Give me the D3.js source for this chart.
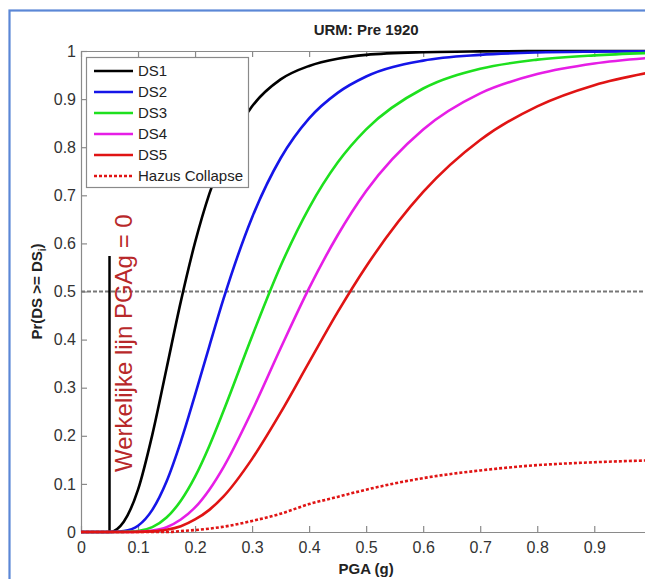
<!DOCTYPE html>
<html><head><meta charset="utf-8">
<script src="https://cdn.jsdelivr.net/npm/d3@7"></script>
<style>
html,body{margin:0;padding:0;background:#fff;}
svg{display:block;font-family:"Liberation Sans",Arial,Helvetica,sans-serif;}
</style></head>
<body><svg id="c" width="645" height="579"></svg>
<script>
// ---- data ----
const pga   = [0, 0.05, 0.075, 0.1, 0.125, 0.15, 0.175, 0.2, 0.225, 0.25, 0.3, 0.35, 0.4, 0.45, 0.5, 0.6, 0.7, 0.8, 0.9, 1.0];
const ds1   = [0, 0, 0.0215, 0.088, 0.202, 0.340, 0.479, 0.602, 0.703, 0.781, 0.885, 0.941, 0.969, 0.984, 0.992, 0.9975, 0.9992, 0.9998, 1, 1];
const ds2   = [0, 0, 0.002, 0.013, 0.046, 0.105, 0.188, 0.285, 0.386, 0.485, 0.654, 0.777, 0.860, 0.913, 0.947, 0.980, 0.992, 0.997, 0.9987, 0.9994];
const ds3   = [0, 0, 0.0002, 0.002, 0.010, 0.030, 0.065, 0.115, 0.179, 0.252, 0.407, 0.553, 0.674, 0.768, 0.837, 0.922, 0.963, 0.982, 0.991, 0.996];
const ds4   = [0, 0, 0, 0.0005, 0.003, 0.010, 0.026, 0.051, 0.088, 0.135, 0.252, 0.382, 0.507, 0.617, 0.709, 0.837, 0.912, 0.952, 0.974, 0.986];
const ds5   = [0, 0, 0, 0.0002, 0.0013, 0.0046, 0.012, 0.026, 0.046, 0.074, 0.152, 0.248, 0.353, 0.457, 0.552, 0.707, 0.815, 0.885, 0.929, 0.956];
const hazus = [0, 0, 0, 0, 0, 0, 0.002, 0.004, 0.007, 0.011, 0.023, 0.038, 0.058, 0.073, 0.088, 0.112, 0.128, 0.139, 0.145, 0.149];
const seriesNames = ["DS1", "DS2", "DS3", "DS4", "DS5", "Hazus Collapse"];
const xTicks = [0, 0.1, 0.2, 0.3, 0.4, 0.5, 0.6, 0.7, 0.8, 0.9];
const yTicks = [0, 0.1, 0.2, 0.3, 0.4, 0.5, 0.6, 0.7, 0.8, 0.9, 1];
const refLevel = 0.5;
const actualLinePGA = 0.05, actualLineTop = 0.574;
const title = "URM: Pre 1920";
const xLabel = "PGA (g)";
const annotation = "Werkelijke lijn PGAg = 0";

// ---- styles ----
const colors = ["#000000", "#1515e8", "#1ee01e", "#e61ee6", "#e01414", "#e01414"];
const allSeries = [ds1, ds2, ds3, ds4, ds5, hazus];

const svg = d3.select("#c");
const L = 81, T = 51, B = 532, R = 651.3;
const x = d3.scaleLinear().domain([0, 1]).range([L, R]);
const y = d3.scaleLinear().domain([0, 1]).range([B, T]);

// outer blue frame
svg.append("rect").attr("x", 9.5).attr("y", 10.5).attr("width", 720).attr("height", 720)
  .attr("fill", "none").attr("stroke", "#5b87d6").attr("stroke-width", 2.2);

// title
svg.append("text").attr("x", (L + R) / 2).attr("y", 35).attr("text-anchor", "middle")
  .attr("font-size", 15).attr("font-weight", "bold").attr("fill", "#222").text(title);

// axes
const axColor = "#8a8a8a";
const gx = svg.append("g").attr("transform", `translate(0,${B})`)
  .call(d3.axisBottom(x).tickValues(xTicks).tickSizeInner(-6).tickSizeOuter(0).tickPadding(10)
    .tickFormat(d => d === 0 ? "0" : d3.format(".1f")(d)));
const gxt = svg.append("g").attr("transform", `translate(0,${T})`)
  .call(d3.axisTop(x).tickValues(xTicks).tickSizeInner(-6).tickSizeOuter(0).tickFormat(""));
const gy = svg.append("g").attr("transform", `translate(${L},0)`)
  .call(d3.axisLeft(y).tickValues(yTicks).tickSizeInner(-6).tickSizeOuter(0).tickPadding(5)
    .tickFormat(d => (d === 0 || d === 1) ? String(d) : d3.format(".1f")(d)));
const gyr = svg.append("g").attr("transform", `translate(${R},0)`)
  .call(d3.axisRight(y).tickValues(yTicks).tickSizeInner(-6).tickSizeOuter(0).tickFormat(""));
[gx, gxt, gy, gyr].forEach(g => {
  g.selectAll("path,line").attr("stroke", axColor).attr("stroke-width", 1.2);
  g.selectAll("text").attr("fill", "#333").attr("font-size", 16)
    .attr("font-family", "'Liberation Sans',Arial,sans-serif");
});

// x label
svg.append("text").attr("x", (L + R) / 2).attr("y", 574).attr("text-anchor", "middle")
  .attr("font-size", 15).attr("font-weight", "bold").attr("fill", "#222").text(xLabel);
// y label
const yl = svg.append("text").attr("transform", `translate(42,${(T + B) / 2}) rotate(-90)`)
  .attr("text-anchor", "middle").attr("font-size", 15).attr("font-weight", "bold").attr("fill", "#222");
yl.append("tspan").text("Pr(DS >= DS");
yl.append("tspan").attr("font-size", 10).attr("dy", 4).text("i");
yl.append("tspan").attr("dy", -4).text(")");

// reference 0.5 dashed line
svg.append("line").attr("x1", x(0)).attr("x2", x(1)).attr("y1", y(refLevel)).attr("y2", y(refLevel))
  .attr("stroke", "#777").attr("stroke-width", 2).attr("stroke-dasharray", "4,2");

// vertical actual line
svg.append("line").attr("x1", x(actualLinePGA)).attr("x2", x(actualLinePGA))
  .attr("y1", y(0)).attr("y2", y(actualLineTop)).attr("stroke", "#000").attr("stroke-width", 2.5);

// curves
const line = d3.line().x((d, i) => x(pga[i])).y(d => y(d)).curve(d3.curveMonotoneX);
allSeries.forEach((s, k) => {
  svg.append("path").datum(s).attr("d", line).attr("fill", "none")
    .attr("stroke", colors[k]).attr("stroke-width", 2.6)
    .attr("stroke-dasharray", k === 5 ? "3,2" : null);
});

// annotation
svg.append("text").attr("transform", `translate(132,472) rotate(-90)`)
  .attr("font-size", 24).attr("fill", "#b8282a").text(annotation);

// legend
const lg = svg.append("g");
lg.append("rect").attr("x", 86.5).attr("y", 57.5).attr("width", 162).attr("height", 130)
  .attr("fill", "#fff").attr("stroke", "#8a8a8a").attr("stroke-width", 1.2);
seriesNames.forEach((n, k) => {
  const yy = 71 + k * 21;
  lg.append("line").attr("x1", 94).attr("x2", 133).attr("y1", yy).attr("y2", yy)
    .attr("stroke", colors[k]).attr("stroke-width", 2.6)
    .attr("stroke-dasharray", k === 5 ? "3,2" : null);
  lg.append("text").attr("x", 138).attr("y", yy).attr("dy", "0.35em")
    .attr("font-size", 15).attr("fill", "#222").text(n);
});
</script></body></html>
